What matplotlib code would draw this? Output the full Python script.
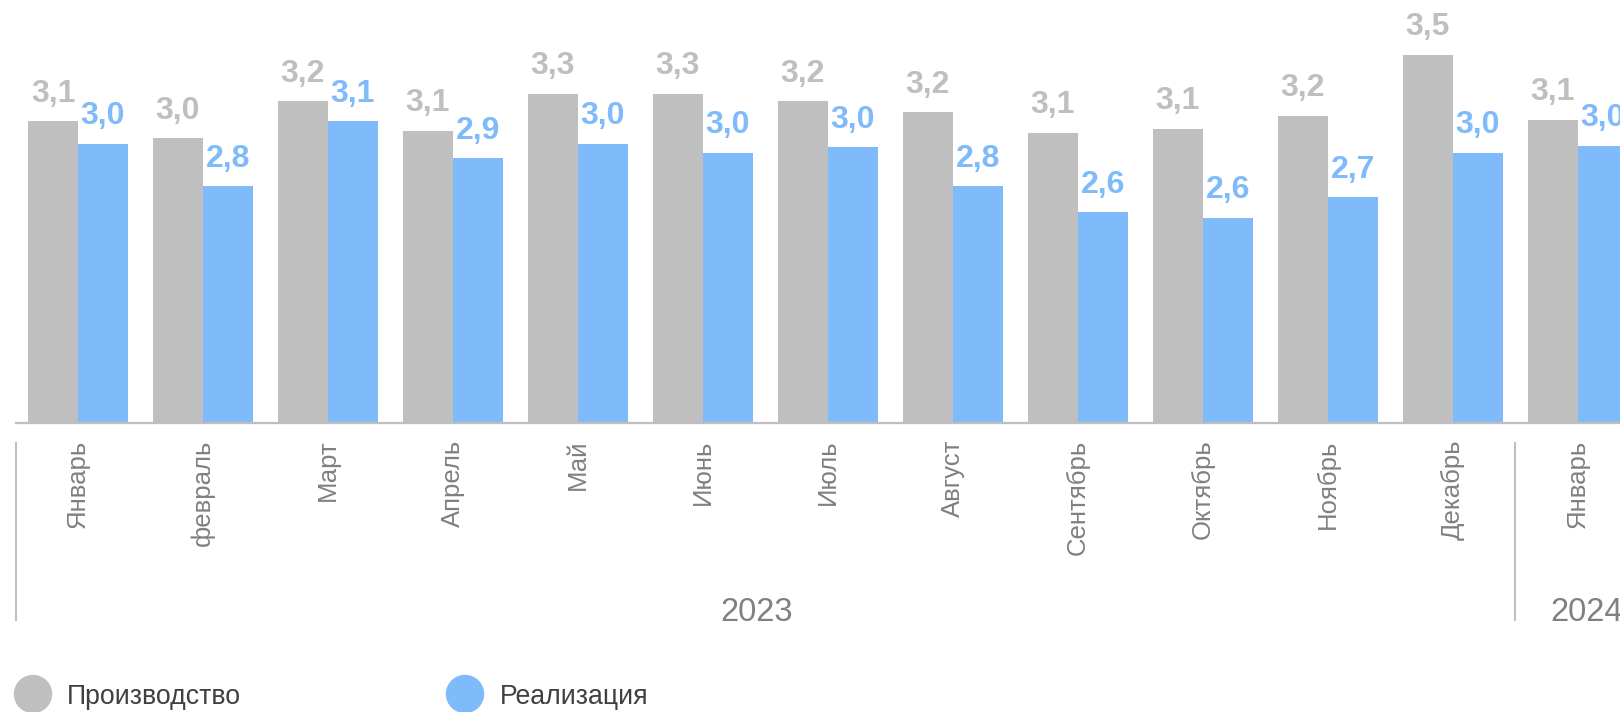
import numpy as np
import matplotlib; matplotlib.use("Agg")
import matplotlib.pyplot as plt
from matplotlib.patches import Ellipse
import matplotlib.transforms as mtransforms

GRAY = "#BFBFBF"; BLUE = "#7FBAFA"; TXT = "#808080"; DARK = "#404040"
plt.rcParams.update({"font.family": ["Liberation Sans", "DejaVu Sans"]})

months = ["Январь", "февраль", "Март", "Апрель", "Май", "Июнь", "Июль",
          "Август", "Сентябрь", "Октябрь", "Ноябрь", "Декабрь", "Январь"]
years = ["2023", "2024"]
prod = [3.13, 3.04, 3.24, 3.08, 3.28, 3.28, 3.24, 3.18, 3.07, 3.09, 3.16, 3.49, 3.14]
real = [3.01, 2.78, 3.13, 2.93, 3.01, 2.96, 2.99, 2.78, 2.64, 2.61, 2.72, 2.96, 3.00]
series = ["Производство", "Реализация"]

W, H = 1620, 712
fig = plt.figure(figsize=(W/100, H/100), dpi=100)
ax = fig.add_axes([15.5/W, (H-423)/H, 1-15.5/W, 423/H])

x = np.arange(len(months))
bw = 0.4
ax.bar(x - bw/2, prod, bw, color=GRAY)
ax.bar(x + bw/2, real, bw, color=BLUE)
ax.set_ylim(1.5, 1.5 + 423/185)
ax.set_xlim(-0.5, 12.34)

for s in ["top", "left", "right"]:
    ax.spines[s].set_visible(False)
ax.spines["bottom"].set_color(GRAY); ax.spines["bottom"].set_linewidth(1.6)
ax.set_yticks([])

fmt = lambda v: f"{v:.1f}".replace(".", ",")
for xi, v in zip(x, prod):
    ax.annotate(fmt(v), (xi - bw/2, v), xytext=(0, 14), textcoords="offset points",
                ha="center", va="baseline", color=GRAY, fontsize=23, fontweight="bold")
for xi, v in zip(x, real):
    ax.annotate(fmt(v), (xi + bw/2, v), xytext=(0, 14), textcoords="offset points",
                ha="center", va="baseline", color=BLUE, fontsize=23, fontweight="bold",
                annotation_clip=False)

ax.set_xticks(x)
ax.set_xticklabels(months, rotation=90, fontsize=18.5, color=TXT)
ax.tick_params(axis="x", length=0, pad=12)

# year groups
tr = mtransforms.blended_transform_factory(ax.transData, ax.transAxes)
y0, y1 = (423-443)/423, (423-620)/423
for sx in [-0.5, 11.5]:
    ax.plot([sx, sx], [y0, y1], color=GRAY, lw=1.5, transform=tr, clip_on=False)
for yx, yl in zip([5.43, 12.07], years):
    ax.text(yx, (423-621)/423, yl, transform=tr, ha="center", va="baseline",
            fontsize=23.5, color=TXT, clip_on=False)

# legend
for cx, tx, col, lab in [(33, 67, GRAY, series[0]), (465, 500, BLUE, series[1])]:
    fig.add_artist(Ellipse((cx/W, 1-694/H), 37/W, 37/H, color=col, transform=fig.transFigure))
    fig.text(tx/W, 1-697/H, lab, ha="left", va="center", fontsize=19.2, color=DARK)

fig.savefig("out.png", dpi=100)
